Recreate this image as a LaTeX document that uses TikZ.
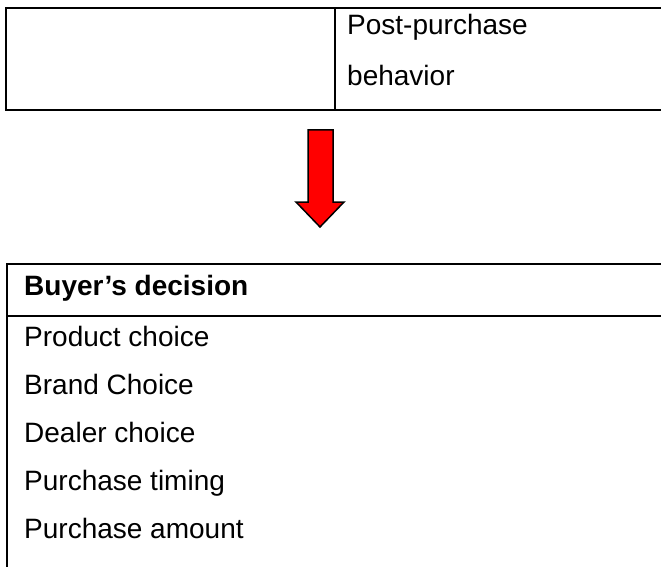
\documentclass[tikz,border=0pt]{standalone}
\usepackage{fontspec}
\setmainfont{Liberation Sans}
\begin{document}
\begin{tikzpicture}[x=1pt,y=-1pt,
  rule/.style={line width=1.8pt,black},
  cell/.style={anchor=base west,inner sep=0pt,font=\fontsize{28}{34}\selectfont},
  bigarrow/.style={fill=red,draw=black,line width=1.5pt,line join=miter}]
\useasboundingbox (0,0) rectangle (661,567);
% top table
\coordinate (ttl) at (6,8);
\coordinate (ttr) at (662,8);
\coordinate (tbl) at (6,110);
\coordinate (tbr) at (662,110);
\coordinate (tdt) at (335,8);
\coordinate (tdb) at (335,110);
\draw[rule] (ttr) -- (ttl) -- (tbl) -- (tbr);
\draw[rule] (tdt) -- (tdb);
\node[cell] (pp) at (347,35) {Post-purchase};
\node[cell] (beh) at (347,86) {behavior};
% arrow
\draw[bigarrow] (308,130) -- (333,130) -- (333,202) -- (344,202) -- (320,227) -- (296,202) -- (308,202) -- cycle;
% bottom table
\coordinate (btl) at (662,264);
\coordinate (bl1) at (7,264);
\coordinate (bl2) at (7,568);
\coordinate (hl) at (7,316);
\coordinate (hr) at (662,316);
\draw[rule] (btl) -- (bl1) -- (bl2);
\draw[rule] (hl) -- (hr);
\node[cell,font=\fontsize{28}{34}\selectfont\bfseries] (bd) at (24,295) {Buyer’s decision};
\node[cell] (r1) at (24,346) {Product choice};
\node[cell] (r2) at (24,394) {Brand Choice};
\node[cell] (r3) at (24,442) {Dealer choice};
\node[cell] (r4) at (24,490) {Purchase timing};
\node[cell] (r5) at (24,538) {Purchase amount};
\end{tikzpicture}
\end{document}
